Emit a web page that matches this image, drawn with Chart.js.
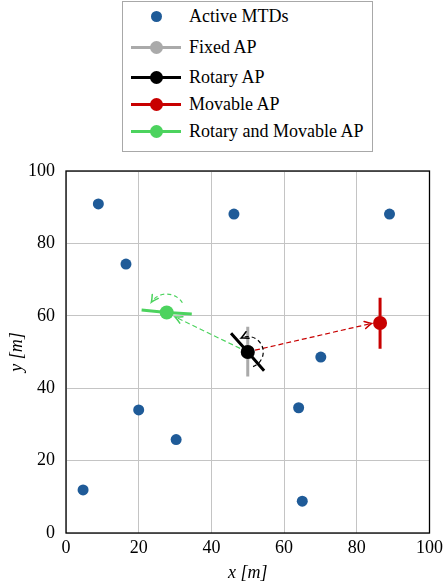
<!DOCTYPE html>
<html>
<head>
<meta charset="utf-8">
<script src="https://cdn.jsdelivr.net/npm/chart.js@4"></script>
<style>
    html, body { margin: 0; padding: 0; background: #fff; }
    #wrap { position: relative; width: 443px; height: 587px; }
    #legend {
        position: absolute; left: 122px; top: 1px; width: 251px; height: 151px;
        box-sizing: border-box; border: 1px solid #a8a8a8; background: #fff;
        font-family: "Liberation Serif", serif; font-size: 18px; color: #000;
    }
    .item { position: absolute; left: 0; height: 20px; line-height: 20px; white-space: nowrap; }
    .sym { position: absolute; left: 8px; top: 0; width: 50px; height: 20px; }
    .sym .ln { position: absolute; left: 0; right: 0; top: 8.5px; height: 3px; }
    .sym .dot { position: absolute; border-radius: 50%; }
    .lbl { position: absolute; left: 66px; top: 0; }
</style>
</head>
<body>
<div id="wrap">
    <canvas id="mapChart" width="443" height="587"></canvas>
    <div id="legend"></div>
</div>
<script>
// Active MTD positions [m]
const mtdX = [8.9, 16.5, 46.2, 89.0, 70.1, 20.0, 30.3, 64.0, 4.7, 65.0];
const mtdY = [90.9, 74.3, 88.1, 88.1, 48.6, 34.0, 25.8, 34.6, 11.9, 8.8];

// AP antenna segments: [end, centre, end]
const fixedX = [50, 50, 50];
const fixedY = [57.0, 50, 43.2];
const rotaryX = [45.4, 50, 54.5];
const rotaryY = [55.2, 50, 44.8];
const movableX = [86.4, 86.4, 86.4];
const movableY = [65.0, 58.0, 50.9];
const rotMovX = [20.8, 27.7, 34.6];
const rotMovY = [61.6, 60.9, 60.5];

// dashed moves from the rotary AP
const toMovableX = [52.0, 84.1];
const toMovableY = [50.5, 57.9];
const toRotMovX = [47.9, 30.0];
const toRotMovY = [51.0, 59.7];

// rotation arcs, start / end angle in degrees (rotary AP, rotary+movable AP)
const rotArcFrom = [70, -32];
const rotArcTo = [-115, -146];

const tickValues = [0, 20, 40, 60, 80, 100];
const legendNames = ["Active MTDs", "Fixed AP", "Rotary AP", "Movable AP", "Rotary and Movable AP"];

const BLUE = "#1f5b98";
const GRAY = "#aaaaaa";
const BLACK = "#000000";
const RED = "#c80000";
const GREEN = "#4cd35e";
const FONT = "Liberation Serif";

const pts = (xs, ys) => xs.map((x, i) => ({ x: x, y: ys[i] }));
const centreDot = r => ctx => ctx.dataIndex === 1 ? r : 0;

function apSet(label, xs, ys, color, order) {
    return {
        label: label,
        data: pts(xs, ys),
        showLine: true,
        borderColor: color,
        backgroundColor: color,
        borderWidth: 3,
        pointRadius: centreDot(7),
        pointBorderWidth: 0,
        order: order
    };
}

function moveSet(xs, ys, color) {
    return {
        data: pts(xs, ys),
        showLine: true,
        borderColor: color,
        borderWidth: 1.2,
        borderDash: [5, 3],
        pointRadius: 0,
        order: 3,
        isMove: true
    };
}

// open "to" style arrow head
function arrowHead(ctx, x, y, ang, color) {
    const L = 7, W = 3.6;
    ctx.save();
    ctx.translate(x, y);
    ctx.rotate(ang);
    ctx.setLineDash([]);
    ctx.strokeStyle = color;
    ctx.lineWidth = 1.5;
    ctx.lineCap = "round";
    ctx.beginPath();
    ctx.moveTo(-L, -W);
    ctx.quadraticCurveTo(-L * 0.35, -W * 0.25, 0, 0);
    ctx.quadraticCurveTo(-L * 0.35, W * 0.25, -L, W);
    ctx.stroke();
    ctx.restore();
}

const mapPlugin = {
    id: "mapExtras",
    beforeDatasetsDraw(chart) {
        const { ctx, chartArea: a } = chart;
        ctx.save();
        ctx.strokeStyle = "#000";
        ctx.lineWidth = 1.3;
        ctx.strokeRect(a.left, a.top, a.right - a.left, a.bottom - a.top);
        ctx.restore();
    },
    afterDatasetsDraw(chart) {
        const ctx = chart.ctx;
        // heads of the dashed moves
        chart.data.datasets.forEach((ds, i) => {
            if (!ds.isMove) return;
            const p = chart.getDatasetMeta(i).data;
            const a = p[p.length - 2], b = p[p.length - 1];
            arrowHead(ctx, b.x, b.y, Math.atan2(b.y - a.y, b.x - a.x), ds.borderColor);
        });
        // rotation arcs
        const arcs = [
            { idx: 2, r: 15.5, color: BLACK },
            { idx: 4, r: 18.5, color: GREEN }
        ];
        arcs.forEach((arc, k) => {
            const c = chart.getDatasetMeta(arc.idx).data[1];
            const t0 = rotArcFrom[k] * Math.PI / 180;
            const t1 = rotArcTo[k] * Math.PI / 180;
            ctx.save();
            ctx.strokeStyle = arc.color;
            ctx.lineWidth = 1.2;
            ctx.setLineDash([4, 3]);
            ctx.beginPath();
            ctx.arc(c.x, c.y, arc.r, t0, t1, true);
            ctx.stroke();
            ctx.restore();
            const ex = c.x + arc.r * Math.cos(t1);
            const ey = c.y + arc.r * Math.sin(t1);
            arrowHead(ctx, ex, ey, Math.atan2(-Math.cos(t1), Math.sin(t1)), arc.color);
        });
    }
};

function buildChart() {
    Chart.defaults.font.family = FONT;

    const axisCommon = {
        type: "linear",
        min: 0,
        max: 100,
        afterBuildTicks: s => { s.ticks = tickValues.map(v => ({ value: v })); },
        grid: { color: "#c4c4c4", lineWidth: 1, drawTicks: false },
        border: { display: false },
        ticks: { color: "#000", font: { family: FONT, size: 18 } }
    };

    const mapChart = new Chart(document.getElementById("mapChart"), {
        type: "scatter",
        data: {
            datasets: [
                {
                    label: legendNames[0],
                    data: pts(mtdX, mtdY),
                    backgroundColor: BLUE,
                    borderWidth: 0,
                    pointRadius: 5.5,
                    order: 1
                },
                apSet(legendNames[1], fixedX, fixedY, GRAY, 5),
                apSet(legendNames[2], rotaryX, rotaryY, BLACK, 0),
                apSet(legendNames[3], movableX, movableY, RED, 0),
                apSet(legendNames[4], rotMovX, rotMovY, GREEN, 0),
                moveSet(toMovableX, toMovableY, RED),
                moveSet(toRotMovX, toRotMovY, GREEN)
            ]
        },
        options: {
            responsive: false,
            animation: false,
            events: [],
            layout: { padding: { top: 171, right: 13.5, left: 0, bottom: 0 } },
            plugins: { legend: { display: false }, tooltip: { enabled: false } },
            scales: {
                x: Object.assign({}, axisCommon, {
                    position: "bottom",
                    afterFit: s => { s.height = 54; s.paddingLeft = 0; s.paddingRight = 0; },
                    ticks: Object.assign({}, axisCommon.ticks, { padding: 4 }),
                    title: {
                        display: true, text: "x [m]", color: "#000",
                        font: { family: FONT, size: 18, style: "italic" },
                        padding: { top: 0, bottom: 3 }
                    }
                }),
                y: Object.assign({}, axisCommon, {
                    position: "left",
                    afterFit: s => { s.width = 66; s.paddingTop = 0; s.paddingBottom = 0; },
                    ticks: Object.assign({}, axisCommon.ticks, { padding: 11 }),
                    title: {
                        display: true, text: "y [m]", color: "#000",
                        font: { family: FONT, size: 18, style: "italic" },
                        padding: { top: 6, bottom: 0 }
                    }
                })
            }
        },
        plugins: [mapPlugin]
    });

    // Legend box built from the datasets
    const rowTop = [4, 35, 65, 92, 119];
    const legendEl = document.getElementById("legend");
    mapChart.data.datasets.forEach(ds => {
        const n = legendNames.indexOf(ds.label);
        if (n < 0) return;
        const item = document.createElement("div");
        item.className = "item";
        item.style.top = rowTop[n] + "px";
        const sym = document.createElement("span");
        sym.className = "sym";
        const d = ds.showLine ? 13 : 11;
        if (ds.showLine) {
            const ln = document.createElement("span");
            ln.className = "ln";
            ln.style.background = ds.borderColor;
            sym.appendChild(ln);
        }
        const dot = document.createElement("span");
        dot.className = "dot";
        dot.style.width = d + "px";
        dot.style.height = d + "px";
        dot.style.left = (25 - d / 2) + "px";
        dot.style.top = (10 - d / 2) + "px";
        dot.style.background = ds.backgroundColor;
        sym.appendChild(dot);
        const lbl = document.createElement("span");
        lbl.className = "lbl";
        lbl.textContent = ds.label;
        item.appendChild(sym);
        item.appendChild(lbl);
        legendEl.appendChild(item);
    });
}

Promise.all([
    document.fonts.load('18px "Liberation Serif"'),
    document.fonts.load('italic 18px "Liberation Serif"')
]).then(buildChart, buildChart);
</script>
</body>
</html>
